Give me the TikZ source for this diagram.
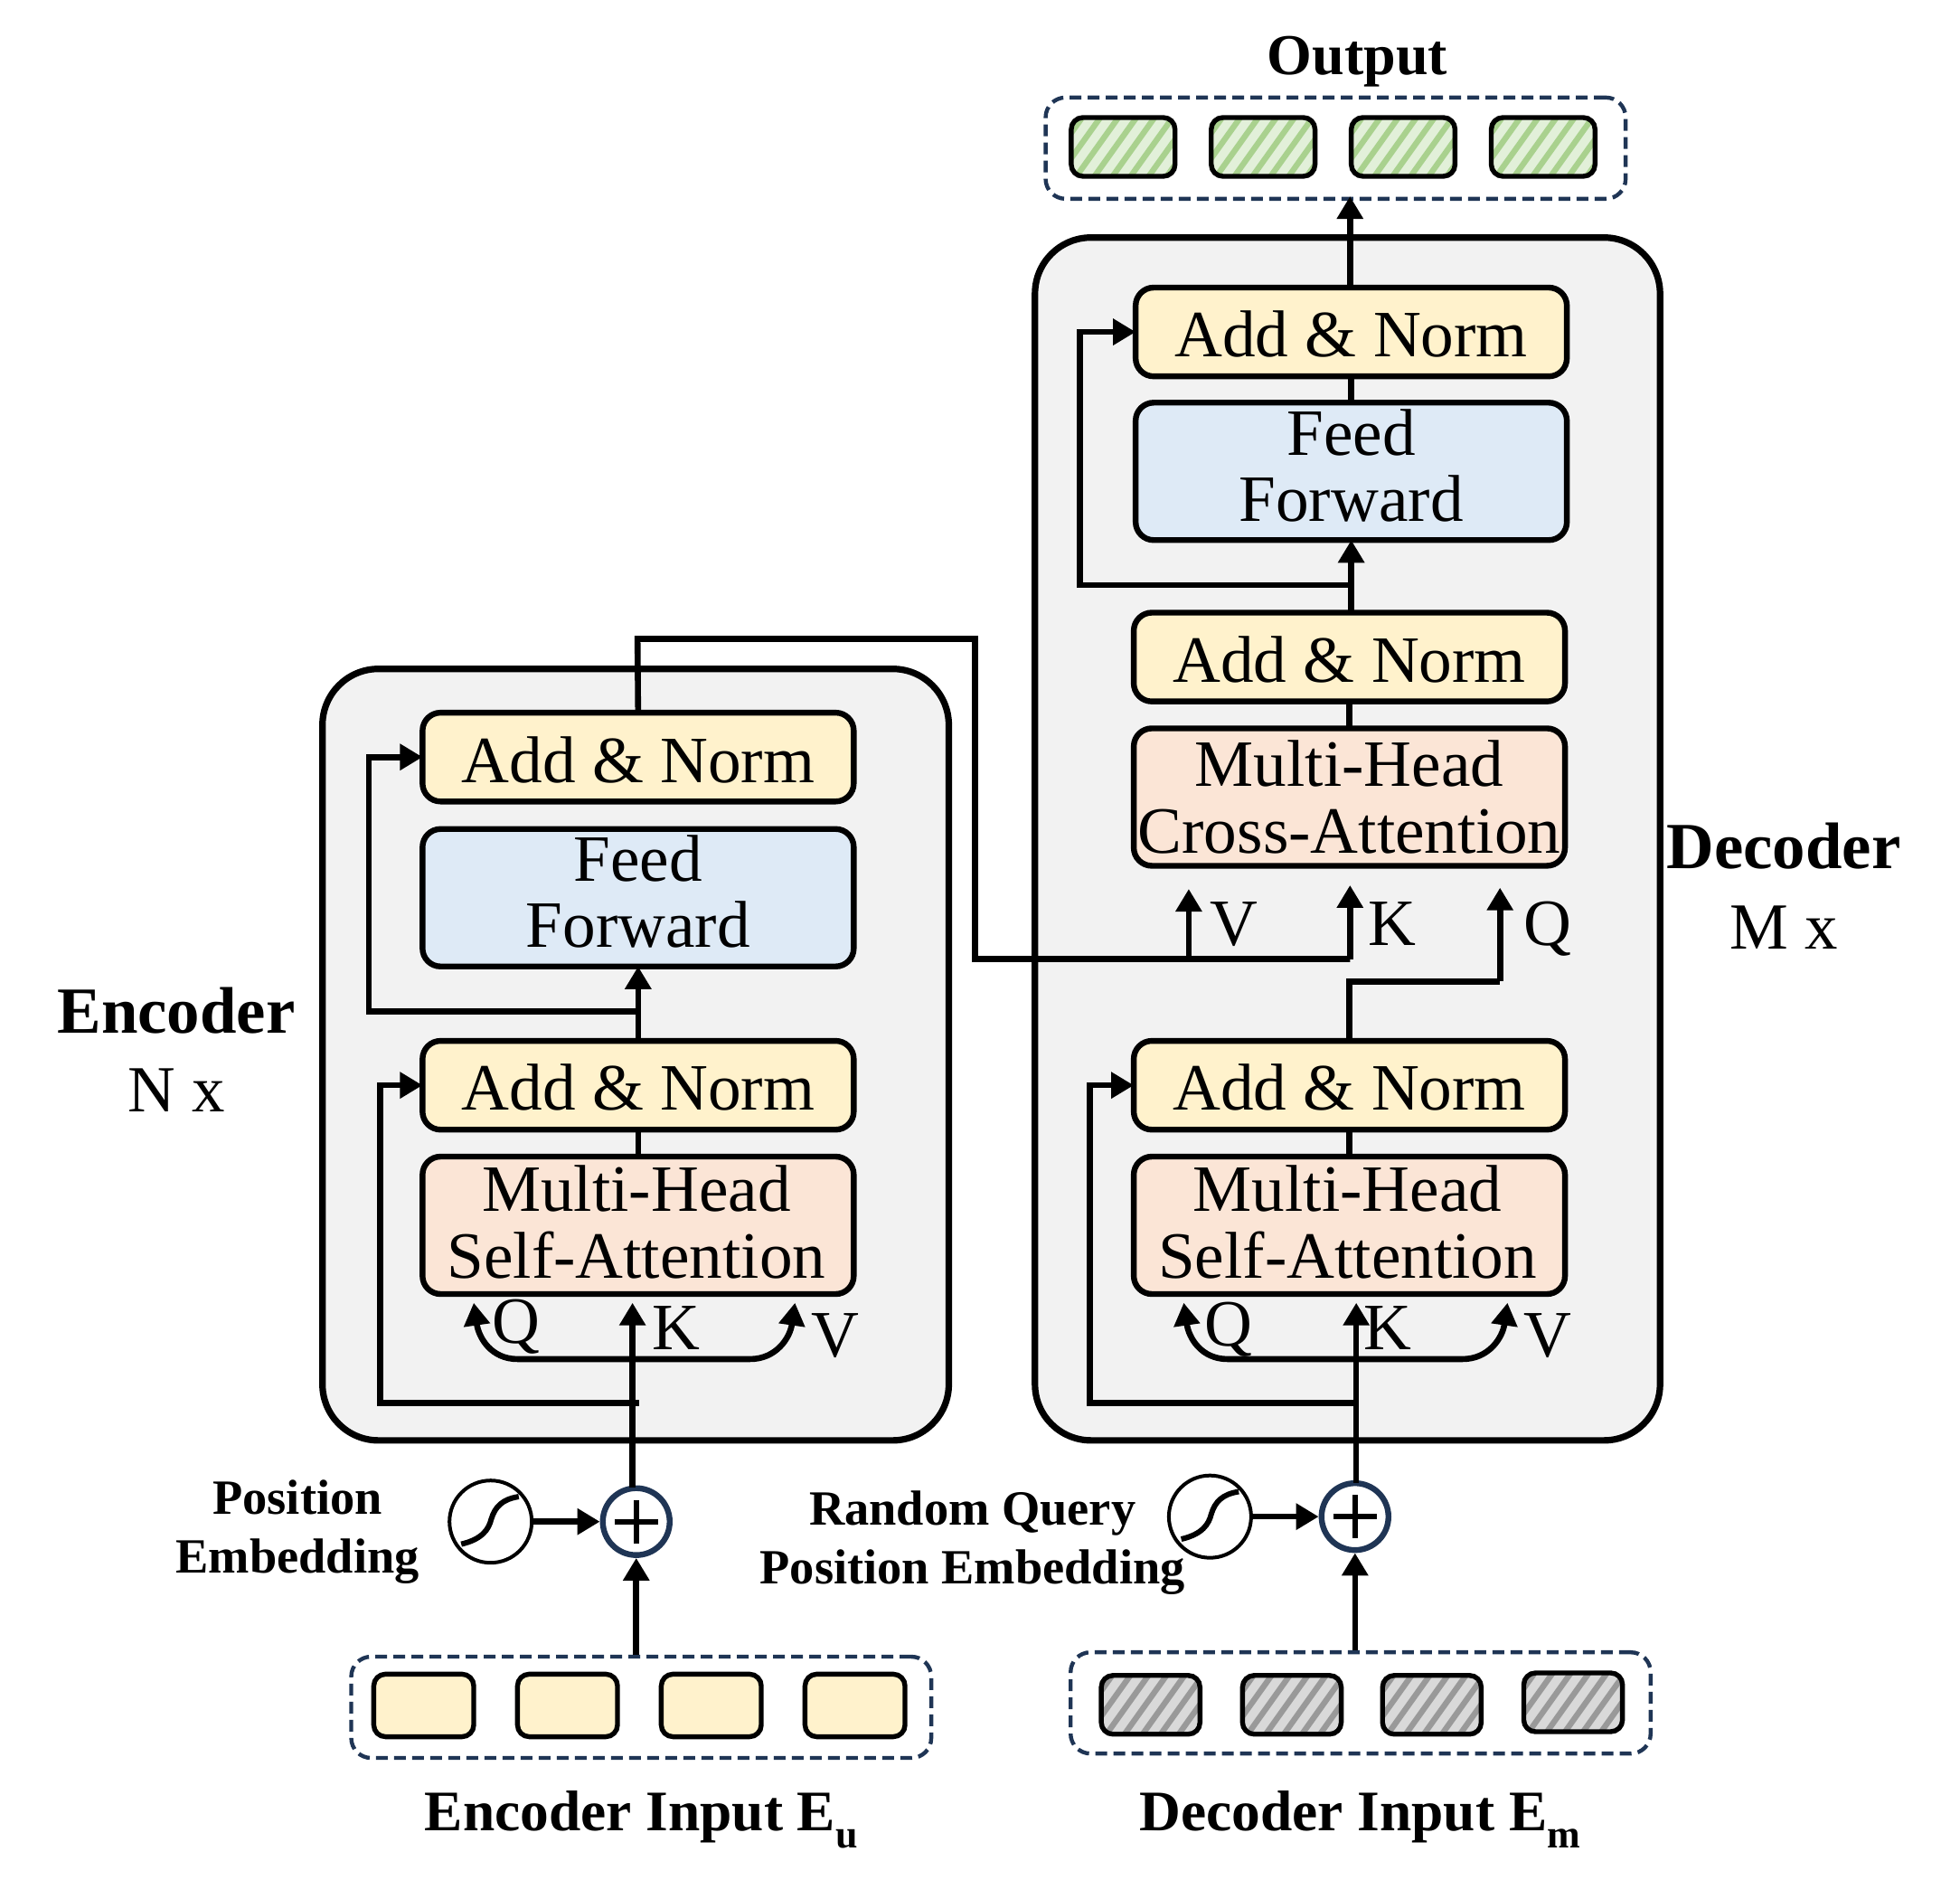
\documentclass[tikz,border=0pt]{standalone}
\usepackage{fontspec}
\setmainfont{Liberation Serif}
\usetikzlibrary{arrows.meta,calc}
\definecolor{yel}{HTML}{FFF2CC}
\definecolor{blu}{HTML}{DEEAF6}
\definecolor{pea}{HTML}{FBE5D6}
\definecolor{con}{HTML}{F2F2F2}
\definecolor{nav}{HTML}{1F3555}
\definecolor{gl}{HTML}{E2F0D9}
\definecolor{gd}{HTML}{A9D18E}
\definecolor{al}{HTML}{D9D9D9}
\definecolor{ad}{HTML}{999999}
\newcommand{\hatchlines}[1]{\foreach \k in {-5,...,9}{\draw[#1,line width=3.2pt] ([xshift=\k*10pt,yshift=-4pt]path picture bounding box.south west) -- ++(30pt,42pt);}}
\newcommand{\subs}[1]{\raisebox{-0.3em}{\fontsize{22}{22}\selectfont #1}}
\newcommand{\twolines}[3]{\raisebox{#1}[30pt][30pt]{\begin{tabular}[b]{@{}c@{}}#2\\#3\end{tabular}}}
\tikzset{
  block/.style={draw=black,line width=3.2pt,rounded corners=10pt,inner sep=0pt,outer sep=0pt,minimum width=238.5pt,align=center,font=\fontsize{36.6}{36.6}\selectfont},
  anbox/.style={block,fill=yel,minimum height=49.1pt,text height=27.8pt,text depth=0pt},
  ffbox/.style={block,fill=blu,minimum height=76pt},
  mhbox/.style={block,fill=pea,minimum height=76pt},
  container/.style={draw=black,line width=3.6pt,fill=con,rounded corners=31pt,inner sep=0pt},
  dashbox/.style={draw=nav,line width=2.2pt,dash pattern=on 6.5pt off 3.5pt,rounded corners=11pt,inner sep=0pt,minimum width=320.8pt,minimum height=56pt},
  cell/.style={draw=black,line width=2.7pt,rounded corners=6.5pt,inner sep=0pt},
  ycell/.style={cell,fill=yel,minimum width=55.3pt,minimum height=34.6pt},
  gcell/.style={cell,fill=gl,minimum width=57.4pt,minimum height=32.5pt,path picture={\hatchlines{gd}}},
  acell/.style={cell,fill=al,minimum width=54.6pt,minimum height=32.5pt,path picture={\hatchlines{ad}}},
  conn/.style={draw=black,line width=3.3pt},
  arr/.style={conn,-{Triangle[length=12.5pt,width=14pt]}},
  plusn/.style={circle,draw=nav,line width=3.2pt,fill=white,minimum size=37pt,inner sep=0pt},
  sinen/.style={circle,draw=black,line width=2pt,fill=white,minimum size=45.5pt,inner sep=0pt},
  lab/.style={inner sep=0pt,font=\fontsize{36.6}{36.6}\selectfont},
  title/.style={inner sep=0pt,align=center,font=\fontsize{36.4}{44}\selectfont\bfseries},
  small/.style={inner sep=0pt,align=center,font=\fontsize{27.2}{32.5}\selectfont\bfseries},
  foot/.style={inner sep=0pt,font=\fontsize{31.7}{36}\selectfont\bfseries},
}
\begin{document}
\begin{tikzpicture}[x=0.69135pt,y=-0.69135pt]
\useasboundingbox (0,0) rectangle (1568,1503);
% containers
\node[container,minimum width=346.4pt,minimum height=426.6pt] (enc) at (508.5,843.5) {};
\node[container,minimum width=345.7pt,minimum height=665.1pt] (dec) at (1078,671) {};
% encoder blocks
\node[anbox] (eAN1) at (510.5,605.5) {Add \& Norm};
\node[ffbox] (eFF) at (510.5,718) {\twolines{-27.5pt}{Feed}{Forward}};
\node[anbox] (eAN2) at (510.5,868) {Add \& Norm};
\node[mhbox] (eMH) at (510.5,980) {\hspace*{-2pt}\twolines{-29pt}{Multi-Head}{Self-Attention}};
% decoder blocks
\node[anbox] (dAN1) at (1081,265.5) {Add \& Norm};
\node[ffbox] (dFF) at (1081,377) {\twolines{-27.5pt}{Feed}{Forward}};
\node[anbox] (dAN2) at (1079.5,525.5) {Add \& Norm};
\node[mhbox] (dCA) at (1079.5,637.5) {Multi-Head\\Cross-Attention};
\node[anbox] (dAN3) at (1079.5,868) {Add \& Norm};
\node[mhbox] (dMH) at (1079.5,980) {\hspace*{-2pt}\twolines{-29pt}{Multi-Head}{Self-Attention}};
% token rows
\node[dashbox] (outBox) at (1068.5,118.5) {};
\foreach \n/\x in {1/898.5,2/1010.5,3/1122.5,4/1234.5}{\node[gcell] (out\n) at (\x,117.5) {};}
\node[dashbox] (eInBox) at (513,1365.5) {};
\foreach \n/\x in {1/339,2/454,3/569,4/684}{\node[ycell] (eIn\n) at (\x,1364) {};}
\node[dashbox] (dInBox) at (1088.5,1362) {};
\node[acell] (dIn1) at (920.5,1363.5) {};
\node[acell] (dIn2) at (1033.5,1363.5) {};
\node[acell] (dIn3) at (1145.5,1363.5) {};
\node[acell] (dIn4) at (1258.5,1361.5) {};
% plus and sine
\node[plusn] (ePlus) at (509,1217) {};
\node[sinen] (eSine) at (392.5,1217) {};
\node[plusn] (dPlus) at (1084,1213) {};
\node[sinen] (dSine) at (968,1213) {};
\foreach \p in {ePlus,dPlus}{
  \draw[line width=2.8pt] ([xshift=-12pt]\p.center) -- ([xshift=12pt]\p.center);
  \draw[line width=2.8pt] ([yshift=-12pt]\p.center) -- ([yshift=12pt]\p.center);
}
\foreach \p/\q in {392/1217,968/1213}{
\begin{scope}[shift={(\p,\q)}]
\draw[line width=3pt] (-23,18) .. controls (-6,14) and (-1,6) .. (1,-2) .. controls (4,-12) and (10,-18) .. (23,-20);
\end{scope}}
% junction coordinates: encoder
\coordinate (eTop) at (510,511);
\coordinate (eTopR) at (780,511);
\coordinate (eBus) at (780,767);
\coordinate (eS1) at (510.5,809);
\coordinate (eS1L) at (295,809);
\coordinate (eK0) at (506,1190);
\coordinate (eKt) at (506,1042);
\coordinate (eQt) at (379,1042);
\coordinate (eVt) at (636,1042);
\coordinate (eH) at (506,1087);
\coordinate (eS2) at (511,1122);
\coordinate (eS2L) at (304,1122);
% junction coordinates: decoder
\coordinate (dK0) at (1085,1186);
\coordinate (dKt) at (1085,1042);
\coordinate (dQt) at (947,1042);
\coordinate (dVt) at (1206,1042);
\coordinate (dH) at (1085,1087);
\coordinate (dS2) at (1085,1122);
\coordinate (dS2L) at (872,1122);
\coordinate (dS1) at (1081,468);
\coordinate (dS1L) at (864,468);
\coordinate (cK) at (1080,767);
\coordinate (cKt) at (1080,708);
\coordinate (cV) at (951,767);
\coordinate (cVt) at (951,711);
\coordinate (cQ) at (1079.5,785);
\coordinate (cQr) at (1200,785);
\coordinate (cQt) at (1200,710);
\coordinate (oT) at (1080,157);
% connectors: encoder
\draw[arr] (eInBox.north -| ePlus) -- (ePlus.south);
\draw[arr] (eSine.east) -- (ePlus.west);
\draw[arr] (eK0) -- (eKt);
\draw[arr] (eH) -- (414,1087) .. controls (393,1087) and (383,1070) .. (eQt);
\draw[arr] (eH) -- (600,1087) .. controls (621,1087) and (632,1070) .. (eVt);
\draw[arr] (eS2) -- (eS2L) |- (eAN2.west);
\draw[conn] (eMH.north) -- (eAN2.south);
\draw[arr] (eAN2.north) -- (eFF.south);
\draw[arr] (eS1) -- (eS1L) |- (eAN1.west);
\draw[conn] (eAN1.north) -- (eTop) -- (eTopR) -- (eBus) -- (cK);
\draw[arr] (cK) -- (cKt);
\draw[arr] (cV) -- (cVt);
% connectors: decoder
\draw[arr] (dInBox.north -| dPlus) -- (dPlus.south);
\draw[arr] (dSine.east) -- (dPlus.west);
\draw[arr] (dK0) -- (dKt);
\draw[arr] (dH) -- (982,1087) .. controls (961,1087) and (951,1070) .. (dQt);
\draw[arr] (dH) -- (1170,1087) .. controls (1191,1087) and (1202,1070) .. (dVt);
\draw[arr] (dS2) -- (dS2L) |- (dAN3.west);
\draw[conn] (dMH.north) -- (dAN3.south);
\draw[conn] (dAN3.north) -- (cQ) -- (cQr);
\draw[arr] (cQr) -- (cQt);
\draw[conn] (dCA.north) -- (dAN2.south);
\draw[arr] (dAN2.north -| dFF.south) -- (dFF.south);
\draw[arr] (dS1) -- (dS1L) |- (dAN1.west);
\draw[conn] (dFF.north) -- (dAN1.south);
\draw[arr] (dAN1.north -| oT) -- (oT);
% labels
\node[lab] (lEQ) at (413,1061) {Q};
\node[lab] (lEK) at (541,1062) {K};
\node[lab] (lEV) at (668,1068) {V};
\node[lab] (lDQ) at (983,1063) {Q};
\node[lab] (lDK) at (1110,1062) {K};
\node[lab] (lDV) at (1238,1068) {V};
\node[lab] (lCV) at (987,739) {V};
\node[lab] (lCK) at (1114,739) {K};
\node[lab] (lCQ) at (1238,743) {Q};
\node[title] (tEnc) at (141,808) {Encoder};
\node[title,font=\fontsize{36.4}{44}\selectfont] (tN) at (141,872) {N x};
\node[title] (tDec) at (1427,677) {Decoder};
\node[title,font=\fontsize{36.4}{44}\selectfont] (tM) at (1427,742) {M x};
\node[title,font=\fontsize{32}{36}\selectfont\bfseries] (tOut) at (1086,49) {Output};
\node[small] (tPos) at (238,1225) {Position\\Embedding};
\node[small] (tRQ) at (778,1234) {Random Query\\Position Embedding};
\node[foot] (tEI) at (513,1455) {Encoder Input E\subs{u}};
\node[foot] (tDI) at (1088,1455) {Decoder Input E\subs{m}};
\end{tikzpicture}
\end{document}
